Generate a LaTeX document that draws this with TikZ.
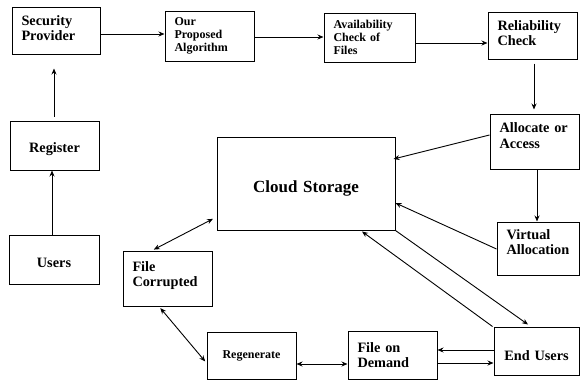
\documentclass[tikz,border=0pt]{standalone}
\usepackage{fontspec}
\setmainfont{Liberation Serif}
\usetikzlibrary{arrows.meta}
\tikzset{
  box/.style={draw, line width=1pt, inner xsep=9.5pt, inner ysep=0pt, align=left},
  big/.style={font=\bfseries\fontsize{14.3}{15.5}\selectfont},
  small/.style={font=\bfseries\fontsize{12}{12.8}\selectfont},
  huge/.style={font=\bfseries\fontsize{17}{19}\selectfont},
  arr/.style={line width=0.9pt, -{Stealth[length=6pt,width=5pt]}},
  darr/.style={line width=0.9pt, {Stealth[length=6pt,width=5pt]}-{Stealth[length=6pt,width=5pt]}}
}
\begin{document}
\begin{tikzpicture}[x=1pt,y=-1pt]
\useasboundingbox (0,0) rectangle (580,380);
% boxes
\node[box,big,text width=69pt,minimum height=47pt] (sp) at (56,30.5) {Security\\[-1pt]Provider\\[-10.5pt]\mbox{}};
\node[box,small,text width=70pt,minimum height=50pt] (alg) at (209.5,36) {Our\\Proposed\\Algorithm};
\node[box,small,text width=72pt,minimum height=49pt] (avail) at (369.5,37.5) {Availability\\Check of\\Files};
\node[box,big,text width=70pt,minimum height=47pt] (rel) at (532.5,35.5) {Reliability\\Check\\[-10.5pt]\mbox{}};
\node[box,big,align=center,text width=70pt,minimum height=49pt,text height=18pt] (reg) at (54.5,145.5) {Register};
\node[box,big,align=center,text width=71pt,minimum height=49pt,text height=16pt] (users) at (54,259.5) {Users};
\node[box,huge,align=center,text width=159pt,minimum height=93pt,text height=22pt] (cloud) at (306,183.5) {Cloud Storage};
\node[box,big,text width=70pt,minimum height=55pt] (fc) at (167.5,278.5) {File\\Corrupted\\[-6.5pt]\mbox{}};
\node[box,small,align=center,text width=70pt,minimum height=47pt] (regen) at (251.5,355.5) {Regenerate};
\node[box,big,text width=70pt,minimum height=48pt] (fod) at (392.5,355) {File on\\Demand};
\node[box,big,align=center,text width=66pt,minimum height=48pt,text height=20pt] (eu) at (536.5,351) {End Users};
\node[box,big,text width=70pt,minimum height=55pt] (alloc) at (534.5,141.5) {Allocate or\\Access\\[-3.5pt]\mbox{}};
\node[box,big,text width=63pt,minimum height=53pt] (virt) at (538,248.5) {Virtual\\Allocation\\[-2.5pt]\mbox{}};
% connectors
\draw[arr, shorten <=4pt, shorten >=14pt] ([xshift=-0.5pt]reg.north) -- ([xshift=-0.5pt]reg.north |- sp.south);
\draw[arr] ([xshift=-2pt]users.north) -- ([xshift=-2pt]users.north |- reg.south);
\draw[arr] ([yshift=-3.5pt]sp.east) -- ([yshift=-3.5pt]sp.east -| alg.west);
\draw[arr] ([yshift=-1pt]alg.east) -- ([yshift=-1pt]alg.east -| avail.west);
\draw[arr] ([yshift=-5.5pt]avail.east) -- ([yshift=-5.5pt]avail.east -| rel.west);
\draw[arr, shorten <=4pt, shorten >=4pt] ([xshift=1.5pt]rel.south) -- ([xshift=1.5pt]rel.south |- alloc.north);
\draw[arr] ([yshift=6.5pt]alloc.west) -- ([yshift=24.5pt,xshift=-2pt]cloud.east);
\draw[arr] ([xshift=2.5pt]alloc.south) -- ([xshift=2.5pt]alloc.south |- virt.north);
\draw[arr] ([yshift=-0.5pt]virt.west) -- ([yshift=-19.5pt]cloud.east);
\draw[arr] ([xshift=-1pt]eu.north west) -- ([xshift=56pt,yshift=-1pt]cloud.south);
\draw[arr] (cloud.south east) -- ([xshift=-8.5pt,yshift=2pt]eu.north);
\draw[arr] ([yshift=1pt]eu.west) -- ([yshift=1pt]eu.west -| fod.east);
\draw[arr] ([yshift=-8pt]fod.east) -- ([yshift=-8pt]fod.east -| eu.west);
\draw[darr] ([yshift=-8.5pt]regen.east) -- ([yshift=-8.5pt]regen.east -| fod.west);
\draw[darr, shorten <=4pt, shorten >=2pt] ([yshift=-33.5pt]cloud.west) -- ([xshift=-15.5pt]fc.north);
\draw[darr, shorten <=2pt, shorten >=2pt] ([xshift=-8.5pt]fc.south) -- ([yshift=-7.5pt]regen.west);
\end{tikzpicture}
\end{document}
